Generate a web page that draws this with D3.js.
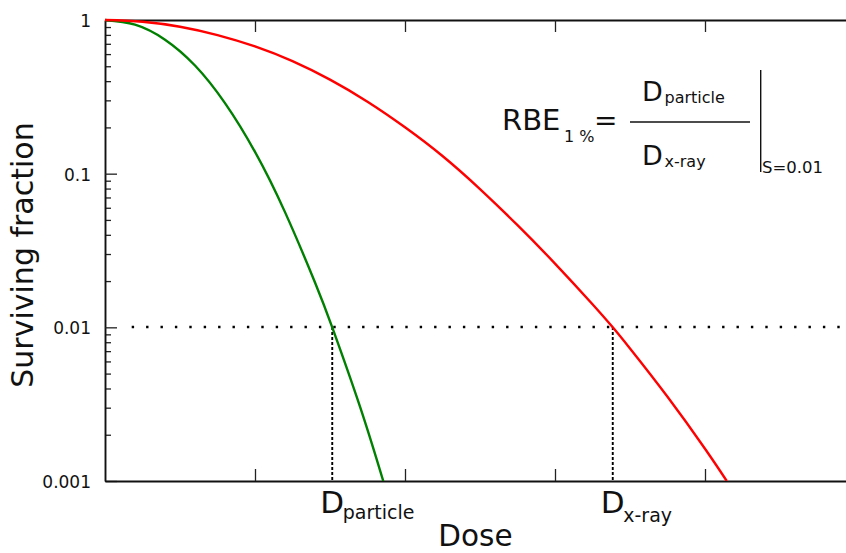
<!DOCTYPE html>
<html>
<head>
<meta charset="utf-8">
<script src="https://cdn.jsdelivr.net/npm/d3@7"></script>
<style>
  html, body { margin: 0; padding: 0; background: #fff; }
  svg { display: block; font-family: "DejaVu Sans", sans-serif; }
</style>
</head>
<body>
<svg id="chart" width="846" height="553"></svg>
<script>
// Dose (arbitrary units) vs surviving fraction for the two radiation types
const particleDose = [0, 0.2, 0.4, 0.6, 0.8, 1.0, 1.2, 1.4, 1.515, 1.7, 1.855];
const particleSurvival = [1, 0.933, 0.745, 0.506, 0.288, 0.1387, 0.0562, 0.0196, 0.01, 0.00305, 0.001];

const xrayDose = [0, 0.25, 0.5, 0.75, 1.0, 1.25, 1.5, 1.75, 2.0, 2.25, 2.5, 2.75, 3.0, 3.25, 3.385, 3.5, 3.75, 4.0, 4.145];
const xraySurvival = [1, 0.975, 0.904, 0.798, 0.673, 0.540, 0.409, 0.294, 0.2004, 0.1303, 0.0794, 0.0462, 0.0260, 0.01413, 0.01, 0.00728, 0.00353, 0.00162, 0.001];

// Axis ticks
const doseTicks = [1, 2, 3, 4];
const survivalTicks = [0.001, 0.01, 0.1, 1];
const survivalTickLabels = ["0.001", "0.01", "0.1", "1"];

// Reference survival level and the doses that reach it
const survivalLevel = 0.01;
const doseMarkers = [1.515, 3.385];
const doseMarkerNames = ["particle", "x-ray"];

const svg = d3.select("#chart");
const plotLeft = 105, plotRight = 846, plotTop = 20, plotBottom = 481;

const x = d3.scaleLinear().domain([0, 4.94]).range([plotLeft, plotRight]);
const y = d3.scaleLog().domain([0.001, 1]).range([plotBottom, plotTop]);

svg.append("defs").append("clipPath").attr("id", "plot")
  .append("rect").attr("x", plotLeft).attr("y", plotTop - 2)
  .attr("width", plotRight - plotLeft).attr("height", plotBottom - plotTop + 2);

// minor ticks on the left axis
const minor = [];
[0.001, 0.01, 0.1].forEach(d => { for (let k = 2; k <= 9; k++) minor.push(d * k); });

const yMinor = svg.append("g").attr("transform", `translate(${plotLeft},0)`)
  .call(d3.axisLeft(y).tickValues(minor).tickSize(-6).tickFormat(""));
yMinor.select(".domain").remove();

const yAxis = svg.append("g").attr("transform", `translate(${plotLeft},0)`)
  .call(d3.axisLeft(y).tickValues(survivalTicks).tickSizeInner(-12).tickSizeOuter(0)
    .tickPadding(14).tickFormat((d, i) => survivalTickLabels[i]));

const xBottom = svg.append("g").attr("transform", `translate(0,${plotBottom})`)
  .call(d3.axisBottom(x).tickValues(doseTicks).tickSizeInner(-12).tickSizeOuter(0).tickFormat(""));
const xTop = svg.append("g").attr("transform", `translate(0,${plotTop})`)
  .call(d3.axisTop(x).tickValues(doseTicks).tickSizeInner(-12).tickSizeOuter(0).tickFormat(""));

[yAxis, xBottom, xTop].forEach(g => g.select(".domain").attr("stroke", "#111").attr("stroke-width", 1.9));
svg.selectAll(".tick line").attr("stroke", "#222").attr("stroke-width", 1.3);
yAxis.selectAll(".tick text")
  .attr("font-family", "DejaVu Sans").attr("font-size", 17).attr("fill", "#111")
  .attr("dy", null).attr("y", 6.5);

// dotted level line at S = 0.01
const levelY = Math.round(y(survivalLevel));
svg.append("line")
  .attr("x1", 131.7).attr("x2", plotRight)
  .attr("y1", levelY).attr("y2", levelY)
  .attr("stroke", "#000").attr("stroke-width", 2.4)
  .attr("stroke-dasharray", "2.4 12");

// dashed drops to the dose axis
svg.selectAll(".drop").data(doseMarkers).join("line")
  .attr("class", "drop")
  .attr("x1", d => x(d)).attr("x2", d => x(d))
  .attr("y1", levelY).attr("y2", plotBottom)
  .attr("stroke", "#000").attr("stroke-width", 1.9)
  .attr("stroke-dasharray", "3 2");

// survival curves
const line = d3.line().x(d => x(d[0])).y(d => y(d[1])).curve(d3.curveNatural);
const curves = svg.append("g").attr("clip-path", "url(#plot)");
curves.append("path")
  .datum(particleDose.map((d, i) => [d, particleSurvival[i]]))
  .attr("d", line).attr("fill", "none").attr("stroke", "#008000").attr("stroke-width", 2.4);
curves.append("path")
  .datum(xrayDose.map((d, i) => [d, xraySurvival[i]]))
  .attr("d", line).attr("fill", "none").attr("stroke", "#ff0000").attr("stroke-width", 2.4);

// dose labels under the axis
const subBase = [519, 522];
doseMarkers.forEach((d, i) => {
  const cx = x(d);
  svg.append("text").attr("x", cx).attr("y", 513)
    .attr("text-anchor", "middle").attr("font-size", 31).attr("fill", "#111").text("D");
  svg.append("text").attr("x", cx + 10.5).attr("y", subBase[i])
    .attr("font-size", 19).attr("fill", "#111").text(doseMarkerNames[i]);
});

// axis titles
svg.append("text").attr("x", (plotLeft + plotRight) / 2).attr("y", 546)
  .attr("text-anchor", "middle").attr("font-size", 29.5).attr("fill", "#111").text("Dose");
svg.append("text").attr("transform", "translate(33,255) rotate(-90)")
  .attr("text-anchor", "middle").attr("font-size", 30).attr("fill", "#111").text("Surviving fraction");

// RBE definition
const f = svg.append("g").attr("fill", "#111");
f.append("text").attr("x", 502).attr("y", 130).attr("font-size", 29).text("RBE");
f.append("text").attr("x", 564).attr("y", 142).attr("font-size", 16).text("1 %");
f.append("text").attr("x", 594).attr("y", 130).attr("font-size", 28).text("=");
f.append("line").attr("x1", 630).attr("x2", 750).attr("y1", 122).attr("y2", 122)
  .attr("stroke", "#111").attr("stroke-width", 1.3);
f.append("text").attr("x", 642).attr("y", 101).attr("font-size", 27).text("D");
f.append("text").attr("x", 664.5).attr("y", 103).attr("font-size", 16).text("particle");
f.append("text").attr("x", 642).attr("y", 165).attr("font-size", 27).text("D");
f.append("text").attr("x", 664.5).attr("y", 167).attr("font-size", 16).text("x-ray");
f.append("line").attr("x1", 760.7).attr("x2", 760.7).attr("y1", 70).attr("y2", 172)
  .attr("stroke", "#111").attr("stroke-width", 1.4);
f.append("text").attr("x", 762).attr("y", 173).attr("font-size", 16.5).text("S=0.01");
</script>
</body>
</html>
